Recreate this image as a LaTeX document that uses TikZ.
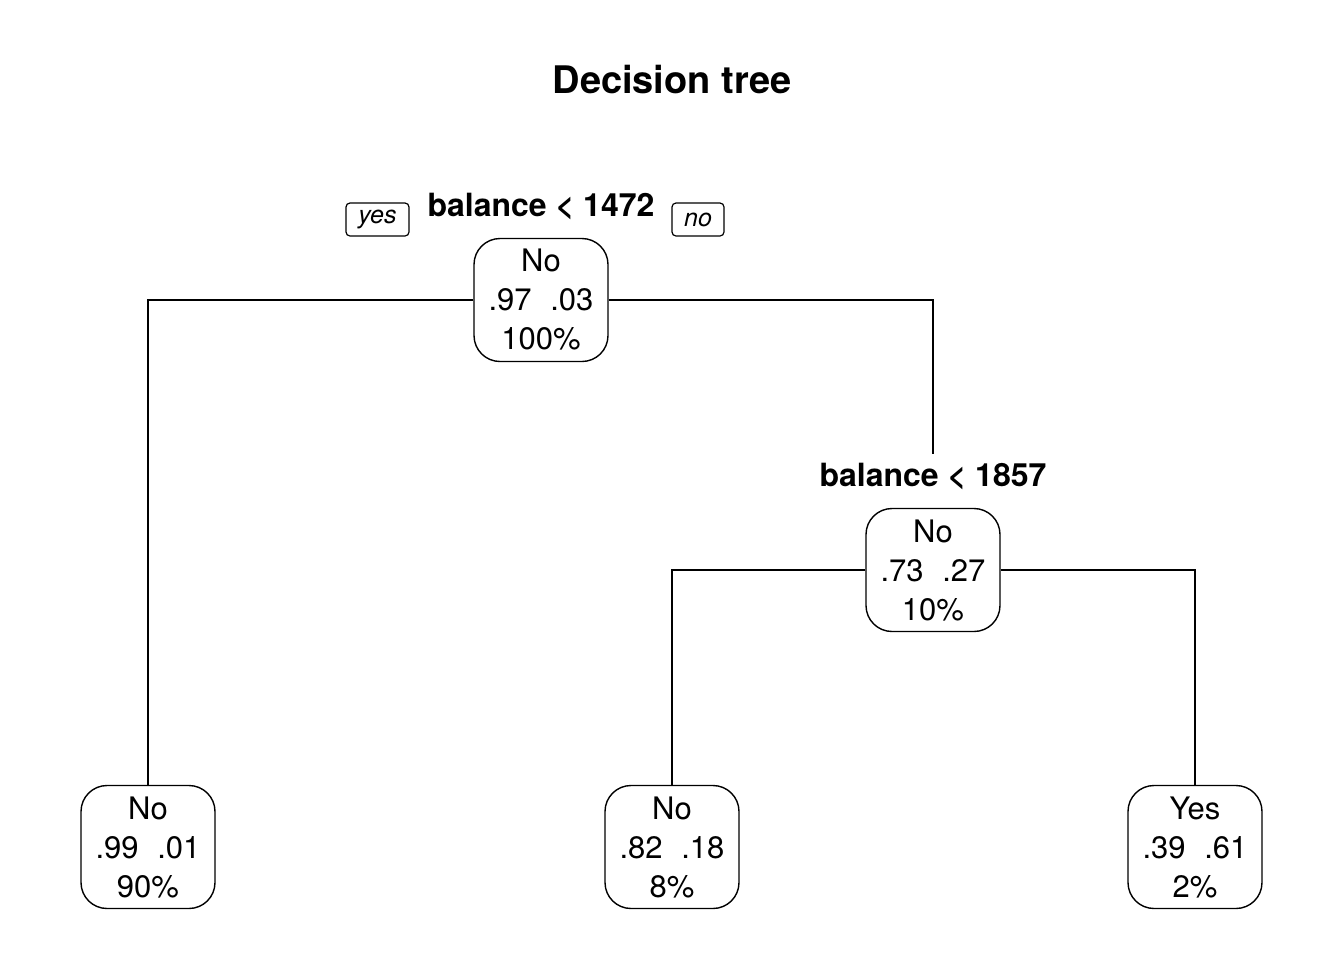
\documentclass[tikz,border=0pt]{standalone}
\usepackage{fontspec}
\setmainfont{TeX Gyre Heros}
\tikzset{
  treebox/.style={draw, line width=0.7pt, rounded corners=13pt, minimum width=67pt,
    minimum height=61.5pt, inner sep=0pt, align=center,
    font=\fontsize{15.5}{19.5}\selectfont},
  splitlab/.style={inner sep=0pt, font=\fontsize{16}{18}\selectfont\bfseries},
  tag/.style={draw, line width=0.6pt, rounded corners=2pt, inner sep=0pt,
    minimum height=16.5pt, font=\fontsize{12.5}{14}\selectfont\itshape},
  edge/.style={line width=0.7pt}
}
\newcommand{\pp}[2]{#1\hspace{0.6em}#2}
\begin{document}
\begin{tikzpicture}[x=0.5pt,y=-0.5pt]
\useasboundingbox (0,0) rectangle (1344,960);
\node[font=\fontsize{19}{22}\selectfont\bfseries] (title) at (672,80) {Decision tree};

\node[treebox] (root) at (541,300) {No\\\pp{.97}{.03}\\100\%};
\node[splitlab] (s1) at (541,207) {balance < 1472};
\node[tag, minimum width=31.5pt] (yes) at (377.5,219.5) {yes};
\node[tag, minimum width=26pt] (no) at (698,219.5) {no};

\node[treebox] (n2) at (933,570) {No\\\pp{.73}{.27}\\10\%};
\node[splitlab] (s2) at (933,477) {balance < 1857};
\coordinate (c2) at (933,454);

\node[treebox] (l1) at (148,847) {No\\\pp{.99}{.01}\\90\%};
\node[treebox] (l2) at (672,847) {No\\\pp{.82}{.18}\\8\%};
\node[treebox] (l3) at (1195,847) {Yes\\\pp{.39}{.61}\\2\%};

\draw[edge] (root.west) -| (l1.north);
\draw[edge] (root.east) -| (c2);
\draw[edge] (n2.west) -| (l2.north);
\draw[edge] (n2.east) -| (l3.north);
\end{tikzpicture}
\end{document}
